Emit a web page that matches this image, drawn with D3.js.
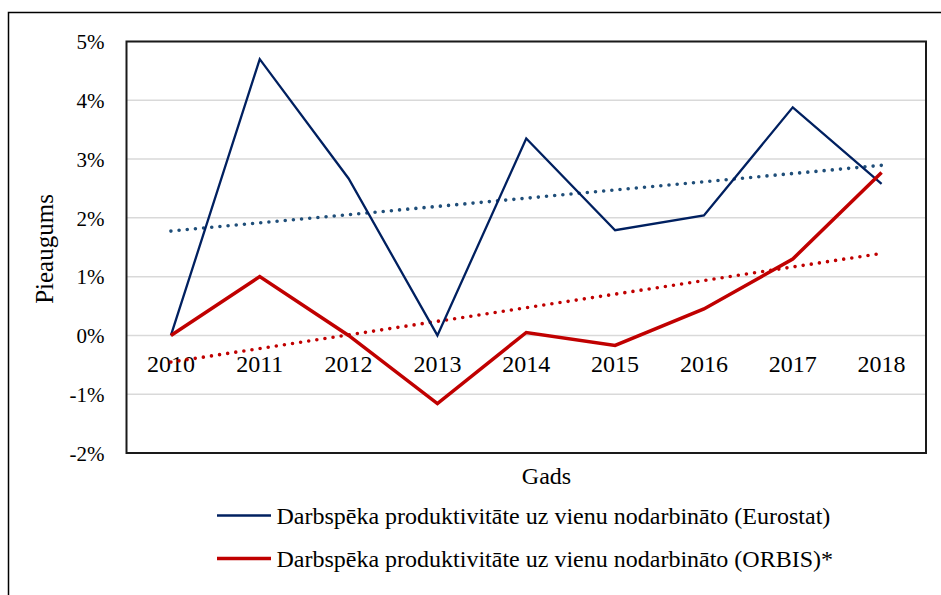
<!DOCTYPE html>
<html>
<head>
<meta charset="utf-8">
<script src="https://cdn.jsdelivr.net/npm/d3@7"></script>
<style>
  body { margin: 0; background: #fff; }
  text { font-family: "Liberation Serif", "Times New Roman", serif; fill: #000; }
</style>
</head>
<body>
<div id="chart"></div>
<script>
// data
var years = ["2010", "2011", "2012", "2013", "2014", "2015", "2016", "2017", "2018"];
var eurostat = [0, 4.7, 2.67, 0, 3.35, 1.79, 2.04, 3.88, 2.58];
var orbis = [0, 1.0, 0, -1.16, 0.05, -0.17, 0.45, 1.3, 2.77];
var yTicks = [-2, -1, 0, 1, 2, 3, 4, 5];
var seriesNames = [
    "Darbspēka produktivitāte uz vienu nodarbināto (Eurostat)",
    "Darbspēka produktivitāte uz vienu nodarbināto (ORBIS)*"
];

var width = 941, height = 595;
var plot = { left: 126.5, right: 926, top: 41.5, bottom: 453 };

var svg = d3.select("#chart").append("svg")
    .attr("width", width)
    .attr("height", height);

// outer frame (only left and top visible in the crop)
svg.append("path")
    .attr("d", "M8.5,595 V12.5 H941")
    .attr("fill", "none")
    .attr("stroke", "#000")
    .attr("stroke-width", 1.5);

var x = d3.scaleBand().domain(years).range([plot.left, plot.right]);
var y = d3.scaleLinear().domain([-2, 5]).range([plot.bottom, plot.top]);
var cx = function (d) { return x(d) + x.bandwidth() / 2; };

// gridlines
svg.append("g")
    .selectAll("line")
    .data(yTicks)
    .enter()
    .append("line")
    .attr("x1", plot.left).attr("x2", plot.right)
    .attr("y1", function (d) { return y(d); })
    .attr("y2", function (d) { return y(d); })
    .attr("stroke", "#d9d9d9")
    .attr("stroke-width", 1.5);

// y tick labels
svg.append("g")
    .selectAll("text")
    .data(yTicks)
    .enter()
    .append("text")
    .attr("x", 104.5)
    .attr("y", function (d) { return y(d); })
    .attr("dy", "0.37em")
    .attr("text-anchor", "end")
    .style("font-size", "21px")
    .text(function (d) { return d + "%"; });

// category labels sit just below the zero line
svg.append("g")
    .selectAll("text")
    .data(years)
    .enter()
    .append("text")
    .attr("x", cx)
    .attr("y", y(0) + 36.5)
    .attr("text-anchor", "middle")
    .style("font-size", "24px")
    .text(function (d) { return d; });

// linear trend (least squares, as the spreadsheet does)
function trend(vals) {
    var idx = vals.map(function (v, i) { return i; });
    var mx = d3.mean(idx), my = d3.mean(vals);
    var sxy = d3.sum(idx, function (i) { return (i - mx) * (vals[i] - my); });
    var sxx = d3.sum(idx, function (i) { return (i - mx) * (i - mx); });
    var b = sxy / sxx, a = my - b * mx;
    return [a, a + b * (vals.length - 1)];
}

var line = d3.line()
    .x(function (d, i) { return cx(years[i]); })
    .y(function (d) { return y(d); });

var trendLine = d3.line()
    .x(function (d, i) { return i === 0 ? cx(years[0]) : cx(years[years.length - 1]); })
    .y(function (d) { return y(d); });

svg.append("path")
    .attr("d", trendLine(trend(eurostat)))
    .attr("fill", "none")
    .attr("stroke", "#1f4e79")
    .attr("stroke-width", 3.6)
    .attr("stroke-linecap", "round")
    .attr("stroke-dasharray", "0 8.2");

svg.append("path")
    .attr("d", trendLine(trend(orbis)))
    .attr("fill", "none")
    .attr("stroke", "#c00000")
    .attr("stroke-width", 3.6)
    .attr("stroke-linecap", "round")
    .attr("stroke-dasharray", "0 8.2");

svg.append("path")
    .attr("d", line(eurostat))
    .attr("fill", "none")
    .attr("stroke", "#002060")
    .attr("stroke-width", 2.3);

svg.append("path")
    .attr("d", line(orbis))
    .attr("fill", "none")
    .attr("stroke", "#c00000")
    .attr("stroke-width", 3.5);

// plot border
svg.append("rect")
    .attr("x", plot.left).attr("y", plot.top)
    .attr("width", plot.right - plot.left)
    .attr("height", plot.bottom - plot.top)
    .attr("fill", "none")
    .attr("stroke", "#1a1a1a")
    .attr("stroke-width", 2);

// axis titles
svg.append("text")
    .attr("transform", "translate(53,249) rotate(-90)")
    .attr("text-anchor", "middle")
    .style("font-size", "25px")
    .text("Pieaugums");

svg.append("text")
    .attr("x", 546.5)
    .attr("y", 484)
    .attr("text-anchor", "middle")
    .style("font-size", "24px")
    .text("Gads");

// legend
var legendColors = ["#002060", "#c00000"];
var legendWidths = [2.5, 3.5];
var legend = svg.append("g")
    .selectAll("g")
    .data(seriesNames)
    .enter()
    .append("g")
    .attr("transform", function (d, i) { return "translate(0," + (515.5 + i * 43) + ")"; });

legend.append("line")
    .attr("x1", 217).attr("x2", 271)
    .attr("stroke", function (d, i) { return legendColors[i]; })
    .attr("stroke-width", function (d, i) { return legendWidths[i]; });

legend.append("text")
    .attr("x", 276.5)
    .attr("y", 8)
    .style("font-size", "24px")
    .text(function (d) { return d; });
</script>
</body>
</html>
